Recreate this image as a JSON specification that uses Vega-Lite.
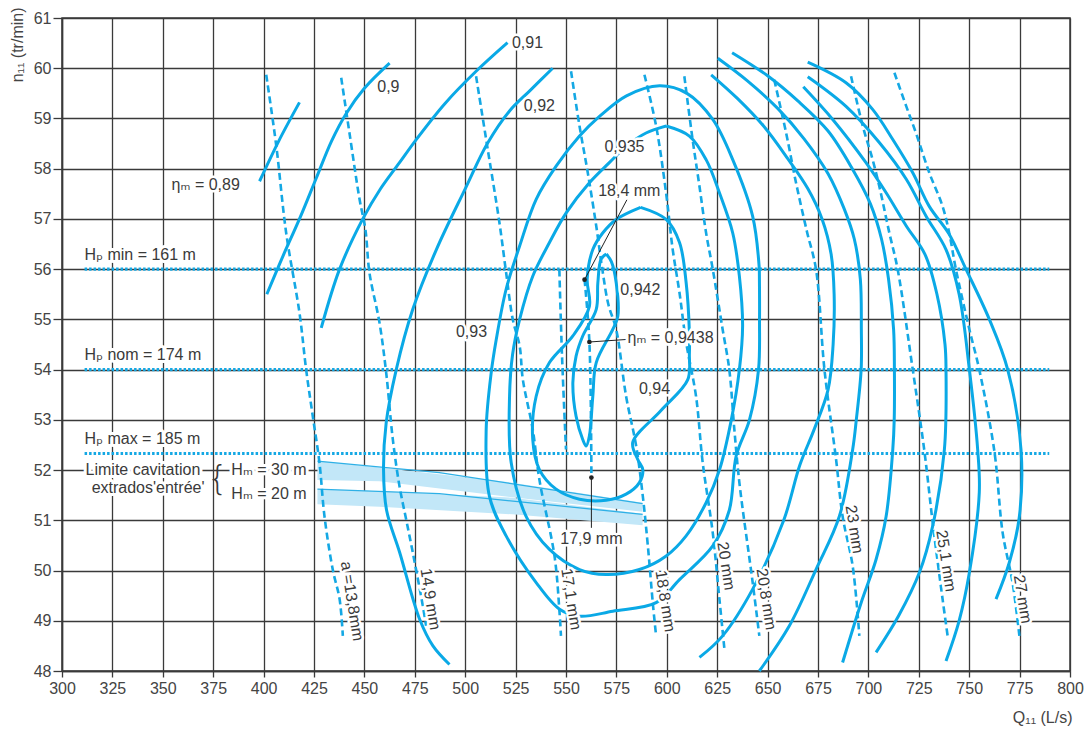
{
  "$schema": "https://vega.github.io/schema/vega-lite/v6.json",
  "width": 1008,
  "height": 653,
  "autosize": {"type": "none"},
  "padding": {"left": 62, "top": 18, "right": 22, "bottom": 58},
  "background": "white",
  "config": {
    "view": {"stroke": "#3a3a3a", "strokeWidth": 1.5},
    "font": "Liberation Sans",
    "text": {"font": "Liberation Sans, DejaVu Sans", "fontSize": 16, "color": "#3a3a3a"}
  },
  "datasets": {
    "solid": [
      {"c":"A","i":0,"x":398,"y":57.75},{"c":"A","i":1,"x":407.5,"y":58.55},{"c":"A","i":2,"x":417.8,"y":59.32},
      {"c":"B","i":0,"x":401.6,"y":55.5},{"c":"B","i":1,"x":409.5,"y":56.25},{"c":"B","i":2,"x":417.8,"y":57.0},{"c":"B","i":3,"x":426,"y":57.8},{"c":"B","i":4,"x":433.7,"y":58.55},{"c":"B","i":5,"x":441,"y":59.1},{"c":"B","i":6,"x":450,"y":59.6},{"c":"B","i":7,"x":462.5,"y":60.1},
      {"c":"C","i":0,"x":428.6,"y":54.83},{"c":"C","i":1,"x":437.7,"y":56.0},{"c":"C","i":2,"x":449.2,"y":57.0},{"c":"C","i":3,"x":458,"y":57.6},{"c":"C","i":4,"x":467.4,"y":58.12},{"c":"C","i":5,"x":475.7,"y":58.58},{"c":"C","i":6,"x":490,"y":59.3},{"c":"C","i":7,"x":505.4,"y":59.94},{"c":"C","i":8,"x":521,"y":60.51},
      {"c":"D","i":0,"x":543.4,"y":60.0},{"c":"D","i":1,"x":532,"y":59.55},{"c":"D","i":2,"x":522,"y":59.15},{"c":"D","i":3,"x":511,"y":58.5},{"c":"D","i":4,"x":500,"y":57.6},{"c":"D","i":5,"x":485.7,"y":56.39},{"c":"D","i":6,"x":474,"y":55.2},{"c":"D","i":7,"x":465.8,"y":54.0},{"c":"D","i":8,"x":460.8,"y":52.94},{"c":"D","i":9,"x":459.5,"y":52.0},{"c":"D","i":10,"x":461,"y":51.2},{"c":"D","i":11,"x":467.5,"y":50.36},{"c":"D","i":12,"x":477.4,"y":49.03},{"c":"D","i":13,"x":484,"y":48.5},{"c":"D","i":14,"x":492.2,"y":48.13},
      {"c":"E93","i":0,"x":645.9,"y":56.0},{"c":"E93","i":1,"x":642.6,"y":57.05},{"c":"E93","i":2,"x":632.7,"y":58.18},{"c":"E93","i":3,"x":622.8,"y":58.98},{"c":"E93","i":4,"x":610,"y":59.5},{"c":"E93","i":5,"x":596.4,"y":59.65},{"c":"E93","i":6,"x":580,"y":59.45},{"c":"E93","i":7,"x":566.6,"y":59.04},{"c":"E93","i":8,"x":556.7,"y":58.65},{"c":"E93","i":9,"x":545.1,"y":58.05},{"c":"E93","i":10,"x":535.2,"y":57.39},{"c":"E93","i":11,"x":527,"y":56.46},{"c":"E93","i":12,"x":520.3,"y":55.6},{"c":"E93","i":13,"x":515.4,"y":54.6},{"c":"E93","i":14,"x":512.9,"y":53.94},{"c":"E93","i":15,"x":510.4,"y":52.8},{"c":"E93","i":16,"x":512,"y":51.48},{"c":"E93","i":17,"x":520.3,"y":50.69},{"c":"E93","i":18,"x":535.2,"y":49.76},{"c":"E93","i":19,"x":546.8,"y":49.23},{"c":"E93","i":20,"x":556.6,"y":49.09},{"c":"E93","i":21,"x":573.2,"y":49.19},{"c":"E93","i":22,"x":594.7,"y":49.36},{"c":"E93","i":23,"x":606.3,"y":49.82},{"c":"E93","i":24,"x":622.8,"y":50.49},{"c":"E93","i":25,"x":631,"y":51.2},{"c":"E93","i":26,"x":634.4,"y":52.28},{"c":"E93","i":27,"x":641,"y":53.0},{"c":"E93","i":28,"x":645.5,"y":54.0},{"c":"E93","i":29,"x":646,"y":55.0},{"c":"E93","i":30,"x":645.9,"y":56.0},
      {"c":"F935","i":0,"x":599.7,"y":58.85},{"c":"F935","i":1,"x":611.2,"y":58.65},{"c":"F935","i":2,"x":619.5,"y":58.18},{"c":"F935","i":3,"x":626.1,"y":57.52},{"c":"F935","i":4,"x":632.7,"y":56.72},{"c":"F935","i":5,"x":636,"y":55.86},{"c":"F935","i":6,"x":637.6,"y":54.87},{"c":"F935","i":7,"x":636,"y":54.0},{"c":"F935","i":8,"x":632,"y":53.0},{"c":"F935","i":9,"x":626.1,"y":52.0},{"c":"F935","i":10,"x":619.5,"y":51.35},{"c":"F935","i":11,"x":609.6,"y":50.69},{"c":"F935","i":12,"x":599.7,"y":50.29},{"c":"F935","i":13,"x":586.4,"y":50.02},{"c":"F935","i":14,"x":569.9,"y":49.92},{"c":"F935","i":15,"x":556.7,"y":50.02},{"c":"F935","i":16,"x":541.8,"y":50.42},{"c":"F935","i":17,"x":530.2,"y":51.08},{"c":"F935","i":18,"x":522.8,"y":52.15},{"c":"F935","i":19,"x":522,"y":53.47},{"c":"F935","i":20,"x":523.5,"y":54.3},{"c":"F935","i":21,"x":527,"y":55.0},{"c":"F935","i":22,"x":533.5,"y":55.86},{"c":"F935","i":23,"x":541.8,"y":56.53},{"c":"F935","i":24,"x":550.1,"y":57.12},{"c":"F935","i":25,"x":561.6,"y":57.72},{"c":"F935","i":26,"x":571.5,"y":58.12},{"c":"F935","i":27,"x":580,"y":58.45},{"c":"F935","i":28,"x":589.7,"y":58.71},{"c":"F935","i":29,"x":599.7,"y":58.85},
      {"c":"G94","i":0,"x":587,"y":57.23},{"c":"G94","i":1,"x":599.7,"y":56.99},{"c":"G94","i":2,"x":606.3,"y":56.53},{"c":"G94","i":3,"x":609.6,"y":55.73},{"c":"G94","i":4,"x":611.2,"y":54.74},{"c":"G94","i":5,"x":611.2,"y":54.3},{"c":"G94","i":6,"x":610.4,"y":53.8},{"c":"G94","i":7,"x":597,"y":53.18},{"c":"G94","i":8,"x":583.1,"y":52.55},{"c":"G94","i":9,"x":585.6,"y":52.21},{"c":"G94","i":10,"x":588.1,"y":52.01},{"c":"G94","i":11,"x":586.4,"y":51.75},{"c":"G94","i":12,"x":579.8,"y":51.52},{"c":"G94","i":13,"x":569.9,"y":51.4},{"c":"G94","i":14,"x":556.7,"y":51.42},{"c":"G94","i":15,"x":545.1,"y":51.62},{"c":"G94","i":16,"x":536.8,"y":52.01},{"c":"G94","i":17,"x":533.5,"y":52.61},{"c":"G94","i":18,"x":535.2,"y":53.47},{"c":"G94","i":19,"x":541.8,"y":54.14},{"c":"G94","i":20,"x":553.4,"y":54.67},{"c":"G94","i":21,"x":561.6,"y":55.26},{"c":"G94","i":22,"x":560.5,"y":55.8},{"c":"G94","i":23,"x":563.3,"y":56.39},{"c":"G94","i":24,"x":568.2,"y":56.72},{"c":"G94","i":25,"x":574.9,"y":56.99},{"c":"G94","i":26,"x":587,"y":57.23},
      {"c":"H942","i":0,"x":570,"y":56.3},{"c":"H942","i":1,"x":572.5,"y":56.15},{"c":"H942","i":2,"x":574.9,"y":55.73},{"c":"H942","i":3,"x":575.7,"y":55.06},{"c":"H942","i":4,"x":573.2,"y":54.8},{"c":"H942","i":5,"x":565,"y":54.14},{"c":"H942","i":6,"x":563.3,"y":53.47},{"c":"H942","i":7,"x":561.6,"y":52.68},{"c":"H942","i":8,"x":560,"y":52.48},{"c":"H942","i":9,"x":558.3,"y":52.61},{"c":"H942","i":10,"x":555,"y":53.07},{"c":"H942","i":11,"x":553.4,"y":53.74},{"c":"H942","i":12,"x":555,"y":54.27},{"c":"H942","i":13,"x":558.3,"y":54.67},{"c":"H942","i":14,"x":565,"y":55.2},{"c":"H942","i":15,"x":565.8,"y":55.73},{"c":"H942","i":16,"x":567.4,"y":56.2},{"c":"H942","i":17,"x":570,"y":56.3},
      {"c":"R1","i":0,"x":622,"y":59.87},{"c":"R1","i":1,"x":635,"y":59.4},{"c":"R1","i":2,"x":648,"y":58.85},{"c":"R1","i":3,"x":660,"y":58.2},{"c":"R1","i":4,"x":670,"y":57.6},{"c":"R1","i":5,"x":677,"y":57.0},{"c":"R1","i":6,"x":681.5,"y":56.3},{"c":"R1","i":7,"x":683,"y":55.5},{"c":"R1","i":8,"x":682.5,"y":54.5},{"c":"R1","i":9,"x":680,"y":53.6},{"c":"R1","i":10,"x":673,"y":52.8},{"c":"R1","i":11,"x":666,"y":52.1},{"c":"R1","i":12,"x":658,"y":51.0},{"c":"R1","i":13,"x":642.6,"y":49.63},{"c":"R1","i":14,"x":627.7,"y":48.7},{"c":"R1","i":15,"x":616.2,"y":48.27},
      {"c":"R2","i":0,"x":625.3,"y":60.2},{"c":"R2","i":1,"x":640,"y":59.75},{"c":"R2","i":2,"x":655,"y":59.2},{"c":"R2","i":3,"x":668,"y":58.6},{"c":"R2","i":4,"x":680,"y":57.9},{"c":"R2","i":5,"x":688,"y":57.2},{"c":"R2","i":6,"x":693,"y":56.6},{"c":"R2","i":7,"x":696,"y":55.8},{"c":"R2","i":8,"x":696.5,"y":54.8},{"c":"R2","i":9,"x":696.4,"y":54.0},{"c":"R2","i":10,"x":694,"y":53.0},{"c":"R2","i":11,"x":692.2,"y":52.41},{"c":"R2","i":12,"x":685.6,"y":51.08},{"c":"R2","i":13,"x":674,"y":50.02},{"c":"R2","i":14,"x":660.8,"y":48.9},{"c":"R2","i":15,"x":645.9,"y":48.0},
      {"c":"R3","i":0,"x":632.4,"y":60.31},{"c":"R3","i":1,"x":650,"y":59.85},{"c":"R3","i":2,"x":665,"y":59.35},{"c":"R3","i":3,"x":680,"y":58.75},{"c":"R3","i":4,"x":692,"y":58.0},{"c":"R3","i":5,"x":701,"y":57.3},{"c":"R3","i":6,"x":706.5,"y":56.6},{"c":"R3","i":7,"x":710,"y":55.8},{"c":"R3","i":8,"x":712.5,"y":54.8},{"c":"R3","i":9,"x":712.9,"y":54.0},{"c":"R3","i":10,"x":712.8,"y":53.0},{"c":"R3","i":11,"x":712.1,"y":52.41},{"c":"R3","i":12,"x":708.8,"y":51.08},{"c":"R3","i":13,"x":703.8,"y":50.22},{"c":"R3","i":14,"x":696.4,"y":49.36},{"c":"R3","i":15,"x":687.2,"y":48.17},
      {"c":"R4","i":0,"x":667.7,"y":59.63},{"c":"R4","i":1,"x":682.3,"y":58.98},{"c":"R4","i":2,"x":698.8,"y":58.12},{"c":"R4","i":3,"x":708.8,"y":57.52},{"c":"R4","i":4,"x":718.8,"y":56.86},{"c":"R4","i":5,"x":728,"y":56.3},{"c":"R4","i":6,"x":734,"y":55.5},{"c":"R4","i":7,"x":738,"y":54.5},{"c":"R4","i":8,"x":738.5,"y":54.0},{"c":"R4","i":9,"x":737.7,"y":52.41},{"c":"R4","i":10,"x":731.9,"y":50.89},{"c":"R4","i":11,"x":725.3,"y":49.96},{"c":"R4","i":12,"x":715,"y":49.1},{"c":"R4","i":13,"x":703.8,"y":48.37},
      {"c":"R5","i":0,"x":669.9,"y":59.83},{"c":"R5","i":1,"x":688.9,"y":59.24},{"c":"R5","i":2,"x":705.4,"y":58.52},{"c":"R5","i":3,"x":718.8,"y":57.79},{"c":"R5","i":4,"x":728.7,"y":57.05},{"c":"R5","i":5,"x":738.5,"y":56.39},{"c":"R5","i":6,"x":745,"y":55.5},{"c":"R5","i":7,"x":750.1,"y":54.0},{"c":"R5","i":8,"x":754.2,"y":52.41},{"c":"R5","i":9,"x":755,"y":51.55},{"c":"R5","i":10,"x":750.1,"y":49.96},{"c":"R5","i":11,"x":745,"y":49.0},{"c":"R5","i":12,"x":738.5,"y":48.2},
      {"c":"R6","i":0,"x":669.9,"y":60.12},{"c":"R6","i":1,"x":688.9,"y":59.71},{"c":"R6","i":2,"x":702.1,"y":59.18},{"c":"R6","i":3,"x":712.1,"y":58.58},{"c":"R6","i":4,"x":722,"y":57.92},{"c":"R6","i":5,"x":730.2,"y":57.25},{"c":"R6","i":6,"x":740,"y":56.7},{"c":"R6","i":7,"x":748.4,"y":56.0},{"c":"R6","i":8,"x":760,"y":55.0},{"c":"R6","i":9,"x":769.1,"y":54.0},{"c":"R6","i":10,"x":775.7,"y":52.41},{"c":"R6","i":11,"x":774.9,"y":51.08},{"c":"R6","i":12,"x":769.9,"y":50.16},{"c":"R6","i":13,"x":763.3,"y":49.43}
    ],
    "dashed": [
      {"c":"13.8","i":0,"x":401.3,"y":59.87},{"c":"13.8","i":1,"x":406.3,"y":58.45},{"c":"13.8","i":2,"x":411.2,"y":56.72},{"c":"13.8","i":3,"x":417.8,"y":55.13},{"c":"13.8","i":4,"x":421.1,"y":54.0},{"c":"13.8","i":5,"x":424.4,"y":53.07},{"c":"13.8","i":6,"x":427.7,"y":52.15},{"c":"13.8","i":7,"x":430.2,"y":51.08},{"c":"13.8","i":8,"x":434.3,"y":50.02},{"c":"13.8","i":9,"x":437.7,"y":49.43},{"c":"13.8","i":10,"x":439.3,"y":48.7},
      {"c":"14.9","i":0,"x":438.5,"y":59.81},{"c":"14.9","i":1,"x":442.6,"y":58.71},{"c":"14.9","i":2,"x":447.6,"y":57.39},{"c":"14.9","i":3,"x":450.5,"y":56.79},{"c":"14.9","i":4,"x":452.5,"y":55.93},{"c":"14.9","i":5,"x":457.5,"y":54.93},{"c":"14.9","i":6,"x":460.8,"y":53.94},{"c":"14.9","i":7,"x":464.1,"y":52.61},{"c":"14.9","i":8,"x":467.4,"y":51.68},{"c":"14.9","i":9,"x":470.7,"y":51.02},{"c":"14.9","i":10,"x":474,"y":50.36},{"c":"14.9","i":11,"x":479,"y":49.29},{"c":"14.9","i":12,"x":480.6,"y":48.9},
      {"c":"17.1","i":0,"x":505.4,"y":59.84},{"c":"17.1","i":1,"x":511.2,"y":58.38},{"c":"17.1","i":2,"x":517,"y":56.92},{"c":"17.1","i":3,"x":520.3,"y":55.93},{"c":"17.1","i":4,"x":523.6,"y":55.0},{"c":"17.1","i":5,"x":527,"y":54.47},{"c":"17.1","i":6,"x":528.6,"y":53.8},{"c":"17.1","i":7,"x":533.5,"y":52.81},{"c":"17.1","i":8,"x":536.8,"y":51.81},{"c":"17.1","i":9,"x":544.3,"y":50.29},{"c":"17.1","i":10,"x":546.8,"y":49.16},{"c":"17.1","i":11,"x":547.5,"y":48.7},
      {"c":"17.9","i":0,"x":546.7,"y":55.99},{"c":"17.9","i":1,"x":548,"y":54.3},{"c":"17.9","i":2,"x":550,"y":52.41},
      {"c":"18.4","i":0,"x":559.2,"y":55.8},{"c":"18.4","i":1,"x":561.6,"y":54.55},{"c":"18.4","i":2,"x":562.6,"y":51.85},
      {"c":"18.8","i":0,"x":552.5,"y":59.94},{"c":"18.8","i":1,"x":556.7,"y":58.85},{"c":"18.8","i":2,"x":560.8,"y":57.92},{"c":"18.8","i":3,"x":565,"y":56.86},{"c":"18.8","i":4,"x":568,"y":56.0},{"c":"18.8","i":5,"x":571,"y":55.3},{"c":"18.8","i":6,"x":574.9,"y":54.8},{"c":"18.8","i":7,"x":579.8,"y":53.47},{"c":"18.8","i":8,"x":584.8,"y":52.48},{"c":"18.8","i":9,"x":588.1,"y":51.48},{"c":"18.8","i":10,"x":590.6,"y":50.49},{"c":"18.8","i":11,"x":593.2,"y":49.29},{"c":"18.8","i":12,"x":594.7,"y":48.7},
      {"c":"20","i":0,"x":588.9,"y":59.87},{"c":"20","i":1,"x":594.7,"y":58.85},{"c":"20","i":2,"x":599.7,"y":57.5},{"c":"20","i":3,"x":602.9,"y":56.4},{"c":"20","i":4,"x":606.3,"y":55.53},{"c":"20","i":5,"x":609.6,"y":54.54},{"c":"20","i":6,"x":614.5,"y":53.47},{"c":"20","i":7,"x":617.8,"y":52.15},{"c":"20","i":8,"x":622.8,"y":50.75},{"c":"20","i":9,"x":626.1,"y":49.43},{"c":"20","i":10,"x":628.6,"y":48.43},
      {"c":"20.8","i":0,"x":608.7,"y":59.84},{"c":"20.8","i":1,"x":612.8,"y":58.58},{"c":"20.8","i":2,"x":616.2,"y":57.65},{"c":"20.8","i":3,"x":619.5,"y":56.72},{"c":"20.8","i":4,"x":622.8,"y":56.0},{"c":"20.8","i":5,"x":627.7,"y":54.8},{"c":"20.8","i":6,"x":631,"y":54.0},{"c":"20.8","i":7,"x":633.5,"y":52.81},{"c":"20.8","i":8,"x":636,"y":51.75},{"c":"20.8","i":9,"x":642.6,"y":49.76},{"c":"20.8","i":10,"x":645.9,"y":48.7},
      {"c":"23","i":0,"x":653.3,"y":59.77},{"c":"23","i":1,"x":659.2,"y":58.71},{"c":"23","i":2,"x":664.1,"y":57.72},{"c":"23","i":3,"x":669.5,"y":56.75},{"c":"23","i":4,"x":674,"y":56.0},{"c":"23","i":5,"x":678.2,"y":54.0},{"c":"23","i":6,"x":684,"y":52.2},{"c":"23","i":7,"x":687.2,"y":51.08},{"c":"23","i":8,"x":692.2,"y":50.09},{"c":"23","i":9,"x":695.5,"y":48.7},
      {"c":"25.1","i":0,"x":691.4,"y":59.84},{"c":"25.1","i":1,"x":697.2,"y":58.85},{"c":"25.1","i":2,"x":702.1,"y":58.18},{"c":"25.1","i":3,"x":705.4,"y":57.65},{"c":"25.1","i":4,"x":710.4,"y":56.72},{"c":"25.1","i":5,"x":714.5,"y":56.0},{"c":"25.1","i":6,"x":722,"y":54.0},{"c":"25.1","i":7,"x":727.8,"y":52.37},{"c":"25.1","i":8,"x":731.9,"y":50.95},{"c":"25.1","i":9,"x":736.8,"y":49.43},{"c":"25.1","i":10,"x":739.3,"y":48.7},
      {"c":"27","i":0,"x":712.9,"y":59.91},{"c":"27","i":1,"x":718.8,"y":59.24},{"c":"27","i":2,"x":723.6,"y":58.71},{"c":"27","i":3,"x":730.2,"y":57.92},{"c":"27","i":4,"x":736.8,"y":57.25},{"c":"27","i":5,"x":740.1,"y":56.72},{"c":"27","i":6,"x":743.4,"y":56.0},{"c":"27","i":7,"x":750.1,"y":54.8},{"c":"27","i":8,"x":755,"y":54.0},{"c":"27","i":9,"x":762.5,"y":52.37},{"c":"27","i":10,"x":766.6,"y":50.75},{"c":"27","i":11,"x":771.5,"y":49.76},{"c":"27","i":12,"x":774.9,"y":48.7}
    ],
    "hp": [
      {"h":"min","y":56,"x":311.2,"x2":789.7},
      {"h":"nom","y":54,"x":311.2,"x2":789.7},
      {"h":"max","y":52.33,"x":311.2,"x2":789.7}
    ],
    "band": [
      {"c":"30","x":426.7,"y":52.18,"y2":51.8},{"c":"30","x":457.5,"y":52.05,"y2":51.78},{"c":"30","x":523.4,"y":51.75,"y2":51.46},{"c":"30","x":588,"y":51.35,"y2":51.17},
      {"c":"20","x":426.7,"y":51.62,"y2":51.32},{"c":"20","x":457.5,"y":51.58,"y2":51.27},{"c":"20","x":523.4,"y":51.45,"y2":51.12},{"c":"20","x":588,"y":51.13,"y2":50.9}
    ],
    "cav": [
      {"c":"30","x":426.7,"y":52.18},{"c":"30","x":487.2,"y":51.95},{"c":"30","x":588,"y":51.33},
      {"c":"20","x":426.7,"y":51.62},{"c":"20","x":487.2,"y":51.53},{"c":"20","x":588,"y":51.12}
    ],
    "pointer": [
      {"p":"18.4","x":580.2,"y":57.38,"x2":559.2,"y2":55.79},
      {"p":"9438","x":561.6,"y":54.55,"x2":580,"y2":54.6},
      {"p":"17.9","x":562.6,"y":51.85,"x2":562.6,"y2":50.85}
    ],
    "dots": [
      {"x":559.2,"y":55.79},{"x":561.6,"y":54.55},{"x":562.6,"y":51.85}
    ],
    "labelsC": [
      {"t":"ηₘ = 0,89","x":371.3,"y":57.68},
      {"t":"0,9","x":461.9,"y":59.63},
      {"t":"0,91","x":530.9,"y":60.51},
      {"t":"0,92","x":536.8,"y":59.24},
      {"t":"0,935","x":579,"y":58.44},
      {"t":"0,93","x":503.1,"y":54.74},
      {"t":"0,942","x":586.9,"y":55.58},
      {"t":"0,94","x":593.9,"y":53.62},
      {"t":"18,4 mm","x":581.4,"y":57.55},
      {"t":"17,9 mm","x":562.6,"y":50.62}
    ],
    "labelsL": [
      {"t":"ηₘ = 0,9438","x":580.5,"y":54.63},
      {"t":"Hₚ min = 161 m","x":311.2,"y":56.29},
      {"t":"Hₚ nom = 174 m","x":311.2,"y":54.3},
      {"t":"Hₚ max = 185 m","x":311.2,"y":52.61},
      {"t":"Limite cavitation","x":311.7,"y":52.01},
      {"t":"extrados'entrée'","x":314.7,"y":51.65},
      {"t":"Hₘ = 30 m","x":384,"y":52.01},
      {"t":"Hₘ = 20 m","x":384,"y":51.52}
    ],
    "brace": [
      {"t":"{","x":377.2,"y":51.8}
    ],
    "labelsR": [
      {"t":"a =13,8mm","x":443.8,"y":49.39},
      {"t":"14,9 mm","x":482.7,"y":49.43},
      {"t":"17,1 mm","x":552.5,"y":49.43},
      {"t":"18,8 mm","x":599.2,"y":49.39},
      {"t":"20 mm","x":629.4,"y":50.09},
      {"t":"20,8 mm","x":649.3,"y":49.43},
      {"t":"23 mm","x":693,"y":50.82},
      {"t":"25,1 mm","x":738.5,"y":50.19},
      {"t":"27 mm","x":776.5,"y":49.43}
    ]
  },
  "encoding": {
    "x": {
      "field": "x", "type": "quantitative",
      "scale": {"domain": [300, 800], "nice": false, "zero": false},
      "axis": {
        "values": [300,325,350,375,400,425,450,475,500,525,550,575,600,625,650,675,700,725,750,775,800],
        "grid": true, "gridColor": "#3a3a3a", "gridWidth": 1.3,
        "domainColor": "#3a3a3a", "domainWidth": 1.5,
        "tickColor": "#3a3a3a", "tickSize": 6, "tickWidth": 1.3,
        "labelFont": "Liberation Sans", "labelFontSize": 16, "labelColor": "#444", "labelPadding": 3, "labelFlush": false,
        "title": "Q₁₁ (L/s)", "titleFont": "Liberation Sans, DejaVu Sans", "titleFontSize": 16, "titleFontWeight": "normal", "titleColor": "#444",
        "titleX": 1010, "titleY": 46, "titleAlign": "right", "titleBaseline": "middle", "titleAnchor": null
      }
    },
    "y": {
      "field": "y", "type": "quantitative",
      "scale": {"domain": [48, 61], "nice": false, "zero": false},
      "axis": {
        "values": [48,49,50,51,52,53,54,55,56,57,58,59,60,61],
        "grid": true, "gridColor": "#3a3a3a", "gridWidth": 1.3,
        "domainColor": "#3a3a3a", "domainWidth": 1.5,
        "tickColor": "#3a3a3a", "tickSize": 9, "tickWidth": 1.3,
        "labelFont": "Liberation Sans", "labelFontSize": 16, "labelColor": "#444", "labelPadding": 2,
        "title": "n₁₁ (tr/min)", "titleFont": "Liberation Sans, DejaVu Sans", "titleFontSize": 16, "titleFontWeight": "normal", "titleColor": "#444",
        "titleAngle": -90, "titleX": -45, "titleY": -11, "titleAlign": "right", "titleBaseline": "middle", "titleAnchor": null
      }
    }
  },
  "layer": [
    {
      "data": {"name": "band"},
      "mark": {"type": "area", "color": "#c2e7f8", "opacity": 1},
      "encoding": {"y2": {"field": "y2"}, "detail": {"field": "c"}}
    },
    {
      "data": {"name": "cav"},
      "mark": {"type": "line", "color": "#2eb0e6", "strokeWidth": 1.3},
      "encoding": {"detail": {"field": "c"}}
    },
    {
      "data": {"name": "hp"},
      "mark": {"type": "rule", "color": "#14a8e4", "strokeWidth": 3.2, "strokeDash": [2.5, 2]},
      "encoding": {"x2": {"field": "x2"}}
    },
    {
      "data": {"name": "dashed"},
      "mark": {"type": "line", "color": "#14a8e4", "strokeWidth": 2.6, "strokeDash": [7, 4], "interpolate": "catmull-rom"},
      "encoding": {"detail": {"field": "c"}, "order": {"field": "i"}}
    },
    {
      "data": {"name": "solid"},
      "mark": {"type": "line", "color": "#0aa9e6", "strokeWidth": 3, "interpolate": "catmull-rom"},
      "encoding": {"detail": {"field": "c"}, "order": {"field": "i"}}
    },
    {
      "data": {"name": "pointer"},
      "mark": {"type": "rule", "color": "#222", "strokeWidth": 1},
      "encoding": {"x2": {"field": "x2"}, "y2": {"field": "y2"}}
    },
    {
      "data": {"name": "dots"},
      "mark": {"type": "point", "filled": true, "color": "#222", "size": 22, "opacity": 1}
    },
    {
      "data": {"name": "labelsC"},
      "mark": {"type": "text", "align": "center", "baseline": "middle", "stroke": "white", "strokeWidth": 5, "strokeJoin": "round"},
      "encoding": {"text": {"field": "t"}}
    },
    {
      "data": {"name": "labelsC"},
      "mark": {"type": "text", "align": "center", "baseline": "middle"},
      "encoding": {"text": {"field": "t"}}
    },
    {
      "data": {"name": "labelsL"},
      "mark": {"type": "text", "align": "left", "baseline": "middle", "stroke": "white", "strokeWidth": 6, "strokeJoin": "round"},
      "encoding": {"text": {"field": "t"}}
    },
    {
      "data": {"name": "labelsL"},
      "mark": {"type": "text", "align": "left", "baseline": "middle"},
      "encoding": {"text": {"field": "t"}}
    },
    {
      "data": {"name": "brace"},
      "mark": {"type": "text", "align": "center", "baseline": "middle", "fontSize": 34, "font": "DejaVu Sans", "fontWeight": 200},
      "encoding": {"text": {"field": "t"}}
    },
    {
      "data": {"name": "labelsR"},
      "mark": {"type": "text", "align": "center", "baseline": "middle", "angle": 81, "stroke": "white", "strokeWidth": 5, "strokeJoin": "round"},
      "encoding": {"text": {"field": "t"}}
    },
    {
      "data": {"name": "labelsR"},
      "mark": {"type": "text", "align": "center", "baseline": "middle", "angle": 81},
      "encoding": {"text": {"field": "t"}}
    }
  ]
}
